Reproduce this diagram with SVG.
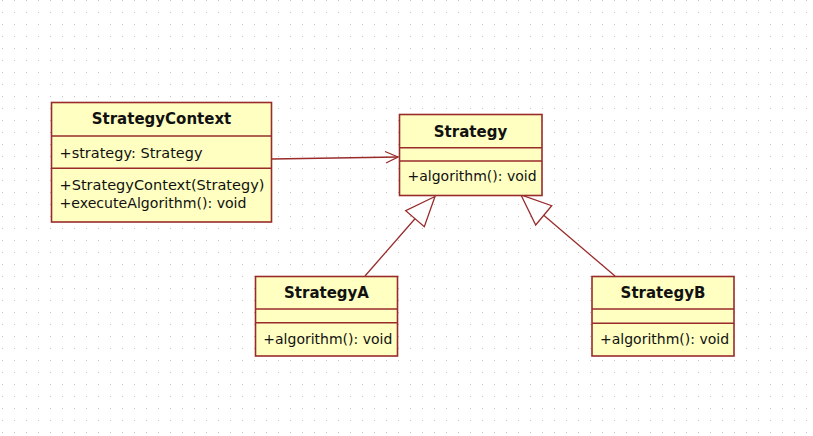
<svg xmlns="http://www.w3.org/2000/svg" width="813" height="436" viewBox="0 0 813 436">
<defs>
<pattern id="grid" x="0" y="0" width="12" height="12" patternUnits="userSpaceOnUse">
<rect x="2" y="0" width="1" height="1" fill="#c4c4c4"/>
</pattern>
<style>
.box{fill:#ffffc2;stroke:#992b2b;stroke-width:1.6}
.div{stroke:#992b2b;stroke-width:1.6}
.t{font-family:"DejaVu Sans",Verdana,sans-serif;font-size:14px;fill:#111}
.b{font-weight:bold;text-anchor:middle;font-size:15px}
.ln{stroke:#992b2b;stroke-width:1.3;fill:none}
.tri{stroke:#992b2b;stroke-width:1.3;fill:#ffffff}
</style>
</defs>
<rect width="813" height="436" fill="#ffffff"/>
<rect width="813" height="436" fill="url(#grid)"/>
<g id="connectors">
<path class="ln" d="M272,159 L398,157"/>
<path class="ln" d="M385,151.5 L398,157 L386,163"/>
<path class="ln" d="M365,276 L415,218.7"/>
<path class="tri" d="M435,196.5 L405.7,210.7 L424.3,226.7 Z"/>
<path class="ln" d="M615,276 L543.7,215.3"/>
<path class="tri" d="M521,195 L535.7,225 L551.7,205.7 Z"/>
</g>
<g id="StrategyContext">
<rect class="box" x="51.5" y="102.5" width="220" height="119.5"/>
<line class="div" x1="51.5" y1="136" x2="271.5" y2="136"/>
<line class="div" x1="51.5" y1="168.3" x2="271.5" y2="168.3"/>
<text class="t b" x="161.5" y="124">StrategyContext</text>
<text class="t" x="59.5" y="157.5" textLength="143" lengthAdjust="spacingAndGlyphs">+strategy: Strategy</text>
<text class="t" x="59.5" y="190" textLength="205" lengthAdjust="spacingAndGlyphs">+StrategyContext(Strategy)</text>
<text class="t" x="59.5" y="208.3" textLength="187" lengthAdjust="spacingAndGlyphs">+executeAlgorithm(): void</text>
</g>
<g id="Strategy">
<rect class="box" x="399.5" y="114.5" width="142.5" height="81"/>
<line class="div" x1="399.5" y1="147.7" x2="542" y2="147.7"/>
<line class="div" x1="399.5" y1="161" x2="542" y2="161"/>
<text class="t b" x="470.5" y="136.5">Strategy</text>
<text class="t" x="407.5" y="181">+algorithm(): void</text>
</g>
<g id="StrategyA">
<rect class="box" x="255.5" y="276.5" width="142" height="79.5"/>
<line class="div" x1="255.5" y1="309" x2="397.5" y2="309"/>
<line class="div" x1="255.5" y1="322.7" x2="397.5" y2="322.7"/>
<text class="t b" x="326.5" y="298.3">StrategyA</text>
<text class="t" x="263.3" y="344">+algorithm(): void</text>
</g>
<g id="StrategyB">
<rect class="box" x="592" y="276.5" width="142" height="79.5"/>
<line class="div" x1="592" y1="309" x2="734" y2="309"/>
<line class="div" x1="592" y1="323.3" x2="734" y2="323.3"/>
<text class="t b" x="663" y="298.3">StrategyB</text>
<text class="t" x="600" y="344">+algorithm(): void</text>
</g>
</svg>
